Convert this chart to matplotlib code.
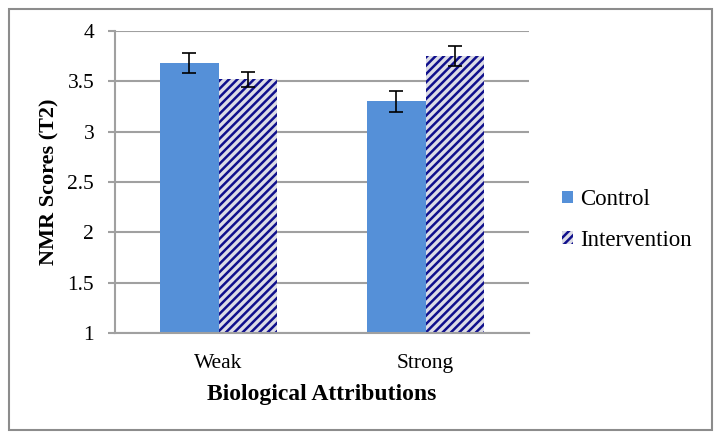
import numpy as np
import matplotlib.pyplot as plt
from matplotlib.patches import Rectangle

plt.rcParams["font.family"] = ["Liberation Serif", "DejaVu Serif"]
plt.rcParams["hatch.linewidth"] = 1.8

CATEGORIES = ["Weak", "Strong"]
SERIES = ["Control", "Intervention"]
CONTROL = [3.68, 3.30]
CONTROL_ERR = [0.10, 0.10]
INTERVENTION = [3.52, 3.75]
INTERVENTION_ERR = [0.075, 0.10]
Y_TICKS = [1, 1.5, 2, 2.5, 3, 3.5, 4]

GRID_GRAY = "#a0a0a0"

fig = plt.figure(figsize=(7.22, 4.4), dpi=100)
ax = fig.add_axes([115 / 722, 1 - 333 / 440, (529 - 115) / 722, (333 - 31) / 440])

x = np.arange(len(CATEGORIES))
width = 0.285

ax.bar(x - width / 2, CONTROL, width, color="#5590d8", label=SERIES[0], zorder=2)
ax.bar(x + width / 2, INTERVENTION, width, color="#dcdce6", edgecolor="#10108c",
       linewidth=0, hatch="////", label=SERIES[1], zorder=2)

err_style = dict(fmt="none", ecolor="black", elinewidth=1.2, capsize=5, capthick=1.2, zorder=3)
ax.errorbar(x - width / 2, CONTROL, yerr=CONTROL_ERR, **err_style)
ax.errorbar(x + width / 2, INTERVENTION, yerr=INTERVENTION_ERR, **err_style)

ax.set_xlim(-0.5, 1.5)
ax.set_ylim(1, 4)
ax.set_yticks(Y_TICKS)
ax.set_yticklabels([f"{t:g}" for t in Y_TICKS])
ax.set_xticks(x)
ax.set_xticklabels(CATEGORIES)

ax.grid(axis="y", color=GRID_GRAY, linewidth=1.5, zorder=0)
ax.set_axisbelow(True)
for side in ["top", "right"]:
    ax.spines[side].set_visible(False)
for side in ["left", "bottom"]:
    ax.spines[side].set_color(GRID_GRAY)
    ax.spines[side].set_linewidth(1.5)

ax.tick_params(axis="y", direction="out", length=5, width=1.5, color=GRID_GRAY,
               labelsize=15.5, pad=10)
ax.tick_params(axis="x", length=0, labelsize=15.5, pad=15)

ax.set_xlabel("Biological Attributions", fontsize=17, fontweight="bold", labelpad=8)
ax.set_ylabel("NMR Scores (T2)", fontsize=16, fontweight="bold", labelpad=6)

fig.legend(loc="center left", bbox_to_anchor=(562 / 722, 1 - 220 / 440), frameon=False,
           fontsize=16.5, handlelength=0.48, handleheight=0.48, handletextpad=0.3,
           labelspacing=0.85, borderpad=0, borderaxespad=0)

fig.patches.append(Rectangle((9 / 722, 1 - 430 / 440), (712 - 9) / 722, (430 - 9) / 440,
                             transform=fig.transFigure, fill=False,
                             edgecolor="#8c8c8c", linewidth=1.5))

fig.savefig("out.png", dpi=100)
